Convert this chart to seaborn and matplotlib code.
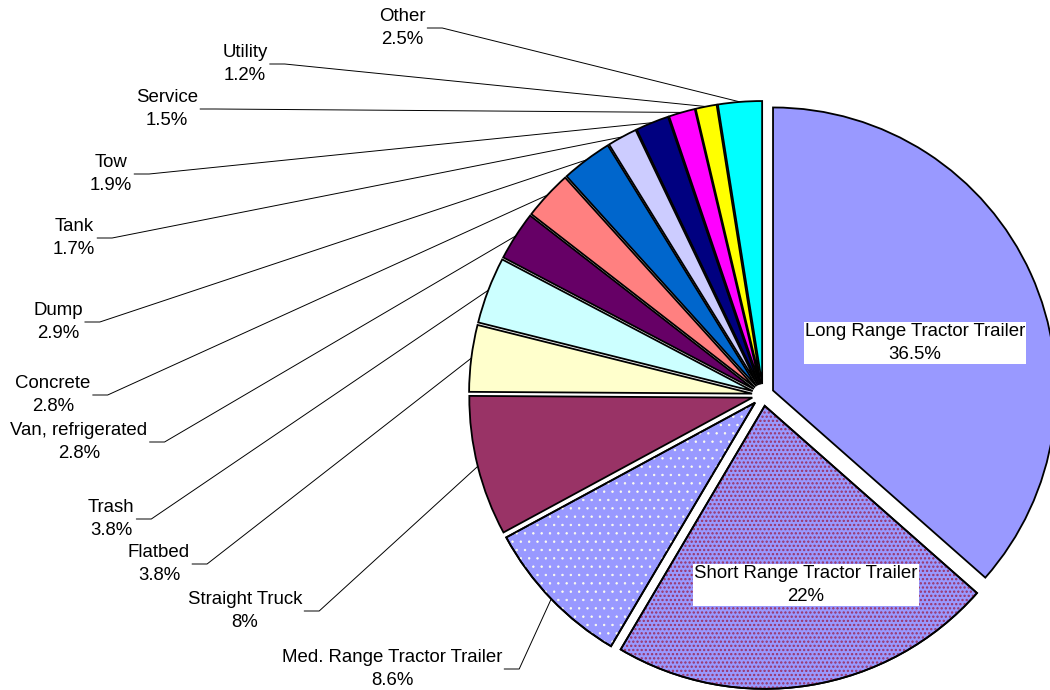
import numpy as np
import matplotlib
matplotlib.use("Agg")
import matplotlib.pyplot as plt
import matplotlib.patches as mpatches
import seaborn as sns

# ---- data (clockwise from 12 o'clock) ----
categories = ["Long Range Tractor Trailer", "Short Range Tractor Trailer",
              "Med. Range Tractor Trailer", "Straight Truck", "Flatbed", "Trash",
              "Van, refrigerated", "Concrete", "Dump", "Tank", "Tow", "Service",
              "Utility", "Other"]
shares = [36.5, 22, 8.6, 8, 3.8, 3.8, 2.8, 2.8, 2.9, 1.7, 1.9, 1.5, 1.2, 2.5]

# ---- styles ----
slice_colors = ["#9999ff", "#9999ff", "#9999ff", "#993366", "#ffffcc", "#ccffff",
                "#660066", "#ff8080", "#0066cc", "#ccccff", "#000080", "#ff00ff",
                "#ffff00", "#00ffff"]
# slice index: (hatch, dot colour, dot line width)
hatches = {1: ("....", "#993366", 1.1), 2: ("..", "#ffffee", 0.5)}

# ---- layout (pixels, y measured from top) ----
W, H = 1050, 690
CENTER = (763, 395)
RADIUS = 283
EXPLODE = 11
inside = {0: (915, 343), 1: (806, 585)}
outside = {2: (392, 669), 3: (245, 611), 4: (159, 564), 5: (111, 519),
           6: (79, 442), 7: (53, 395), 8: (58, 322), 9: (74, 238),
           10: (111, 174), 11: (167, 109), 12: (245, 64), 13: (402, 28)}
FS = 13.4
LS = 1.4

sns.set_theme(style="white")
plt.rcParams["font.family"] = ["Liberation Sans", "DejaVu Sans"]
plt.rcParams["text.color"] = "black"
plt.rcParams["hatch.linewidth"] = 0.5

fig = plt.figure(figsize=(W / 100, H / 100), dpi=100)
ax = fig.add_axes([0, 0, 1, 1])

wedges, _ = ax.pie(shares, colors=slice_colors, startangle=90, counterclock=False,
                   explode=[EXPLODE] * len(shares), radius=RADIUS,
                   center=(CENTER[0], H - CENTER[1]),
                   wedgeprops=dict(edgecolor="black", linewidth=1.3))

# pattern fills drawn as an overlay so the dots get their own colour
for i, (h, hc, hlw) in hatches.items():
    w = wedges[i]
    with plt.rc_context({"hatch.linewidth": hlw}):
        ov = mpatches.Wedge(w.center, w.r, w.theta1, w.theta2, facecolor="none",
                            edgecolor=hc, linewidth=0, hatch=h, zorder=w.get_zorder() + 0.1)
    ax.add_patch(ov)
    ax.add_patch(mpatches.Wedge(w.center, w.r, w.theta1, w.theta2, facecolor="none",
                                edgecolor="black", linewidth=1.3, zorder=w.get_zorder() + 0.2))

ax.set_xlim(0, W)
ax.set_ylim(0, H)
ax.set_aspect("equal")
ax.axis("off")


def label_text(i):
    return f"{categories[i]}\n{shares[i]:g}%"


for i, (x, y) in inside.items():
    ax.text(x, H - y, label_text(i), ha="center", va="center", fontsize=FS,
            linespacing=LS, zorder=5,
            bbox=dict(facecolor="white", edgecolor="none", pad=1))

texts = {}
for i, (x, y) in outside.items():
    texts[i] = ax.text(x, H - y, label_text(i), ha="center", va="center",
                       fontsize=FS, linespacing=LS)

fig.canvas.draw()
renderer = fig.canvas.get_renderer()
inv = ax.transData.inverted()
for i, t in texts.items():
    bb = t.get_window_extent(renderer)
    (x0, y0), (x1, y1) = inv.transform([(bb.x0, bb.y0), (bb.x1, bb.y1)])
    ym = (y0 + y1) / 2
    w = wedges[i]
    mid = np.deg2rad((w.theta1 + w.theta2) / 2)
    px = w.center[0] + w.r * np.cos(mid)
    py = w.center[1] + w.r * np.sin(mid)
    ax.plot([x1 + 2, x1 + 17, px], [ym, ym, py], color="black", lw=0.7,
            solid_joinstyle="miter", zorder=0.5)

fig.savefig("out.png", dpi=100)
